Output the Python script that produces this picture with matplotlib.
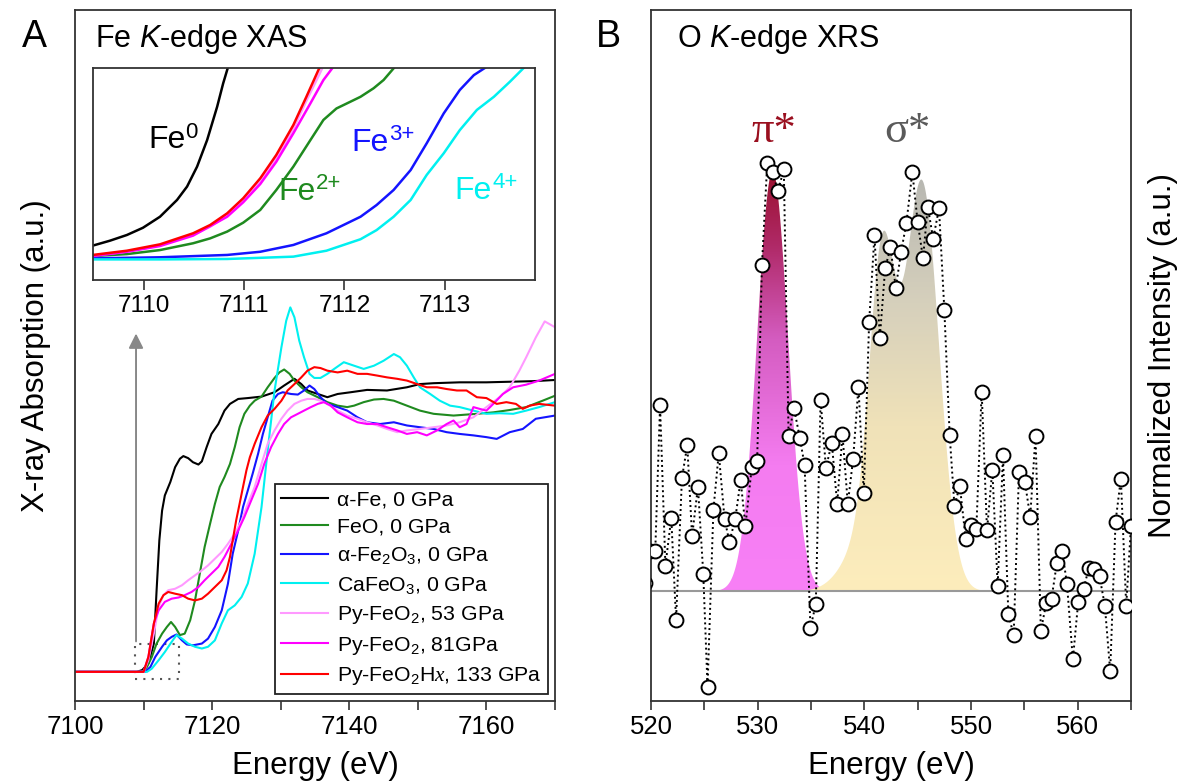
import numpy as np
import matplotlib
matplotlib.use("Agg")
import matplotlib.pyplot as plt
from matplotlib.colors import LinearSegmentedColormap
from matplotlib.ticker import MultipleLocator, FormatStrFormatter
from matplotlib.patches import Rectangle

plt.rcParams["font.family"] = ["Liberation Sans", "DejaVu Sans"]
plt.rcParams["mathtext.fontset"] = "custom"
plt.rcParams["mathtext.rm"] = "Liberation Sans"
plt.rcParams["mathtext.it"] = "Liberation Serif:italic"
plt.rcParams["mathtext.sf"] = "Liberation Sans:italic"

# ---------------- Panel A: Fe K-edge XAS (main spectra) ----------------
fe_x = [7100, 7109.0, 7109.8, 7110.7, 7111.5, 7111.9, 7112.3, 7112.7, 7113.1, 7113.9, 7114.6,
        7115.3, 7115.8, 7116.5, 7117.2, 7118.0, 7118.5, 7119.2, 7119.9, 7120.9, 7121.8, 7122.6,
        7123.8, 7125.2, 7127.2, 7129.1, 7130.5, 7132.0, 7133.0, 7133.9, 7135.4, 7136.8, 7138.3,
        7140.2, 7142.6, 7145.5, 7148.4, 7150.3, 7152.3, 7156.1, 7160.0, 7163.4, 7166.8, 7170]
fe_y = [0, 0, .006, .029, .097, .280, .451, .553, .605, .651, .702,
        .731, .740, .733, .719, .711, .722, .771, .816, .850, .896, .919,
        .936, .939, .944, .959, .982, 1.005, .987, .965, .953, .942, .953,
        .959, .967, .965, .976, .987, .990, .993, .993, .995, .997, 1.001]

feo_x = [7100, 7109.8, 7110.5, 7111.2, 7111.9, 7112.7, 7113.4, 7114.0, 7114.6, 7115.3, 7116.0,
         7116.8, 7117.5, 7118.2, 7118.9, 7119.7, 7120.4, 7121.1, 7121.8, 7122.6, 7123.3, 7124.0,
         7124.7, 7125.5, 7126.2, 7127.2, 7128.1, 7129.1, 7129.8, 7130.5, 7131.3, 7132.0, 7133.0,
         7133.9, 7135.4, 7136.8, 7138.3, 7139.7, 7140.7, 7142.1, 7143.6, 7145.0, 7146.5, 7148.4,
         7150.3, 7152.3, 7155.2, 7158.6, 7161.0, 7163.4, 7165.8, 7168.2, 7170]
feo_y = [0, 0, .017, .051, .097, .131, .154, .171, .154, .126, .131,
         .177, .245, .337, .428, .508, .576, .634, .668, .713, .771, .839,
         .885, .913, .930, .944, .976, 1.008, 1.027, 1.037, 1.022, .999, .976,
         .959, .942, .925, .913, .908, .913, .925, .934, .936, .930, .913,
         .896, .885, .879, .885, .890, .898, .908, .930, .947]

fe2o3_x = [7100, 7110.2, 7111.0, 7111.7, 7112.7, 7113.4, 7114.1, 7114.8, 7115.6, 7116.3, 7117.2,
           7118.5, 7119.4, 7120.4, 7121.4, 7122.3, 7123.0, 7123.8, 7124.5, 7125.2, 7125.9, 7126.7,
           7127.4, 7128.1, 7128.8, 7129.6, 7130.3, 7131.5, 7132.5, 7133.4, 7134.2, 7134.9, 7135.8,
           7136.8, 7138.3, 7139.7, 7141.2, 7142.6, 7144.5, 7146.5, 7148.4, 7150.3, 7152.3, 7154.2,
           7156.1, 7158.1, 7160.0, 7161.5, 7163.4, 7165.3, 7167.2, 7170]
fe2o3_y = [0, 0, .017, .051, .086, .108, .120, .128, .108, .094, .091,
           .097, .114, .154, .211, .302, .405, .485, .565, .622, .679, .748,
           .816, .873, .930, .953, .959, .953, .951, .965, .982, .970, .942,
           .919, .908, .896, .873, .856, .850, .856, .845, .839, .833, .822,
           .816, .811, .805, .799, .822, .833, .868, .879]

cafeo3_x = [7100, 7110.5, 7111.2, 7112.2, 7113.1, 7114.1, 7114.8, 7115.6, 7116.5, 7117.5, 7118.5,
            7119.4, 7120.4, 7121.4, 7122.3, 7123.3, 7124.3, 7125.2, 7126.2, 7127.2, 7128.1, 7129.1,
            7130.1, 7130.8, 7131.4, 7132.0, 7132.7, 7133.4, 7134.2, 7134.9, 7135.8, 7136.8, 7137.8,
            7139.2, 7140.7, 7142.1, 7143.6, 7145.0, 7146.5, 7147.4, 7148.4, 7149.4, 7150.3, 7151.8,
            7153.2, 7154.7, 7156.1, 7158.1, 7160.0, 7161.9, 7163.9, 7165.8, 7167.7, 7170]
cafeo3_y = [0, 0, .011, .040, .068, .103, .126, .114, .097, .086, .080,
            .086, .108, .166, .211, .228, .257, .303, .405, .565, .759, .965,
            1.113, 1.204, 1.250, 1.216, 1.136, 1.079, 1.022, 1.008, 1.008, 1.022, 1.039,
            1.062, 1.050, 1.039, 1.050, 1.067, 1.090, 1.079, 1.050, 1.010, .976, .953,
            .930, .913, .908, .896, .885, .887, .885, .896, .908, .925]

py53_x = [7100, 7110.0, 7110.7, 7111.5, 7112.2, 7112.9, 7113.6, 7114.6, 7115.6, 7116.5, 7117.5,
          7118.5, 7119.4, 7120.4, 7121.4, 7122.3, 7123.3, 7124.3, 7125.2, 7126.2, 7127.2, 7128.1,
          7129.1, 7130.1, 7131.0, 7132.0, 7133.0, 7133.9, 7134.9, 7135.8, 7136.8, 7138.3, 7139.7,
          7141.2, 7142.6, 7144.1, 7145.5, 7147.0, 7148.4, 7150.3, 7152.3, 7154.2, 7156.1, 7158.1,
          7160.0, 7161.9, 7163.4, 7164.8, 7165.8, 7167.2, 7168.5, 7170]
py53_y = [0, 0, .040, .131, .223, .263, .280, .285, .297, .314, .331,
          .348, .365, .388, .411, .439, .474, .519, .576, .634, .713, .782,
          .828, .868, .896, .919, .930, .936, .936, .930, .919, .896, .879,
          .868, .856, .845, .833, .822, .828, .833, .839, .845, .856, .873,
          .908, .942, .976, 1.033, 1.079, 1.147, 1.202, 1.182]

py81_x = [7100, 7110.0, 7110.7, 7111.5, 7112.2, 7113.1, 7114.1, 7115.1, 7116.0, 7117.0, 7118.0,
          7118.9, 7119.9, 7120.9, 7121.8, 7122.8, 7123.8, 7124.7, 7125.7, 7126.7, 7127.6, 7128.6,
          7129.6, 7130.5, 7131.5, 7132.5, 7133.4, 7134.4, 7135.4, 7136.3, 7137.3, 7138.3, 7139.7,
          7141.2, 7142.6, 7144.1, 7145.5, 7147.0, 7148.4, 7149.9, 7151.3, 7152.8, 7154.2, 7155.2,
          7156.1, 7157.1, 7158.1, 7159.0, 7160.0, 7161.0, 7162.4, 7163.9, 7165.8, 7167.7, 7170]
py81_y = [0, 0, .051, .166, .211, .240, .251, .255, .263, .274, .291,
          .314, .337, .360, .394, .439, .485, .531, .588, .645, .713, .771,
          .816, .850, .873, .885, .896, .908, .919, .925, .913, .890, .873,
          .856, .850, .850, .839, .828, .816, .822, .811, .828, .850, .862,
          .839, .850, .908, .902, .896, .919, .953, .976, .985, .999, 1.022]

pyh_x = [7100, 7110.0, 7110.7, 7111.5, 7112.2, 7112.9, 7113.6, 7114.6, 7115.6, 7116.5, 7117.5,
         7118.5, 7119.4, 7120.4, 7121.4, 7122.1, 7122.6, 7123.0, 7123.5, 7124.0, 7124.5, 7125.0,
         7125.5, 7126.2, 7127.2, 7128.1, 7129.1, 7130.1, 7131.0, 7132.0, 7133.0, 7133.9, 7134.9,
         7135.8, 7136.8, 7138.3, 7139.7, 7141.2, 7142.6, 7144.1, 7145.5, 7147.0, 7148.4, 7149.9,
         7151.3, 7152.8, 7154.2, 7155.7, 7157.1, 7158.6, 7160.0, 7161.5, 7162.9, 7164.3, 7165.3,
         7166.3, 7167.7, 7170]
pyh_y = [0, 0, .051, .166, .234, .263, .274, .268, .263, .251, .245,
         .251, .268, .291, .314, .348, .394, .451, .519, .576, .634, .691,
         .736, .782, .839, .879, .902, .930, .965, .987, 1.010, 1.033, 1.045,
         1.042, 1.033, 1.027, 1.033, 1.022, 1.022, 1.016, 1.010, 1.005, .999, .987,
         .976, .976, .970, .965, .965, .942, .939, .919, .925, .919, .902,
         .913, .919, .913]

series_labels = ["α-Fe, 0 GPa", "FeO, 0 GPa", "α-Fe$_2$O$_3$, 0 GPa", "CaFeO$_3$, 0 GPa",
                 "Py-FeO$_2$, 53 GPa", "Py-FeO$_2$, 81GPa", "Py-FeO$_2$H$x$, 133 GPa"]
series_colors = ["#000000", "#1f8a1f", "#1414ff", "#00f0f0", "#ff99ff", "#ff00ff", "#ff0000"]

# ---------------- Panel A inset (edge region, inset units) ----------------
in_fe_x = [7109.49, 7109.66, 7109.83, 7109.99, 7110.16, 7110.33, 7110.43, 7110.53, 7110.63,
           7110.73, 7110.79, 7110.84, 7110.89]
in_fe_y = [.162, .185, .212, .246, .298, .377, .440, .534, .659, .816, .926, 1.005, 1.099]
in_feo_x = [7109.49, 7109.83, 7110.16, 7110.49, 7110.66, 7110.83, 7110.99, 7111.16, 7111.32,
            7111.49, 7111.66, 7111.79, 7111.92, 7112.06, 7112.16, 7112.29, 7112.39, 7112.49]
in_feo_y = [.113, .122, .141, .173, .196, .228, .270, .330, .424, .534, .659, .754, .808, .840,
            .863, .903, .942, .997]
in_fe2o3_x = [7109.49, 7110.16, 7110.83, 7111.16, 7111.49, 7111.82, 7112.16, 7112.32, 7112.49,
              7112.66, 7112.82, 7112.99, 7113.15, 7113.29, 7113.42]
in_fe2o3_y = [.102, .107, .118, .133, .165, .220, .298, .353, .424, .518, .644, .785, .895, .965,
              1.005]
in_cafeo3_x = [7109.49, 7110.16, 7110.83, 7111.49, 7111.82, 7112.16, 7112.32, 7112.49, 7112.66,
               7112.82, 7112.99, 7113.15, 7113.32, 7113.49, 7113.65, 7113.80]
in_cafeo3_y = [.097, .097, .099, .110, .138, .192, .235, .298, .377, .495, .597, .706, .801, .863,
               .934, 1.005]
in_py53_x = [7109.49, 7109.83, 7110.16, 7110.49, 7110.66, 7110.83, 7110.99, 7111.16, 7111.32,
             7111.49, 7111.62, 7111.74, 7111.82]
in_py53_y = [.115, .134, .163, .213, .251, .305, .374, .466, .575, .713, .845, .960, 1.040]
in_py81_x = [7109.49, 7109.83, 7110.16, 7110.49, 7110.83, 7110.99, 7111.16, 7111.32, 7111.49,
             7111.66, 7111.79, 7111.89]
in_py81_y = [.113, .133, .160, .209, .298, .366, .452, .557, .691, .832, .942, 1.005]
in_pyh_x = [7109.49, 7109.83, 7110.16, 7110.49, 7110.66, 7110.83, 7110.99, 7111.16, 7111.32,
            7111.49, 7111.62, 7111.74, 7111.79]
in_pyh_y = [.118, .138, .168, .220, .259, .314, .385, .479, .589, .730, .863, .989, 1.036]

# ---------------- Panel B: O K-edge XRS ----------------
xrs_x = [519.4, 519.95, 520.4, 520.85, 521.35, 521.9, 522.35, 522.9, 523.4, 523.85, 524.4, 524.9,
         525.3, 525.85, 526.35, 526.9, 527.35, 527.9, 528.4, 528.85, 529.45, 529.95, 530.4,
         530.9, 531.4, 531.9, 532.45, 532.9, 533.4, 533.95, 534.4, 534.95, 535.45, 535.9,
         536.4, 536.95, 537.45, 537.95, 538.45, 538.95, 539.45, 539.95, 540.45, 540.95,
         541.45, 541.95, 542.45, 542.95, 543.45, 543.95, 544.5, 545.0, 545.5, 545.95, 546.45,
         547.0, 547.5, 548.0, 548.45, 548.95, 549.5, 550.0, 550.5, 551.0, 551.5, 552.0, 552.5,
         553.0, 553.5, 554.0, 554.5, 555.05, 555.55, 556.05, 556.55, 557.05, 557.55, 558.05,
         558.55, 559.0, 559.55, 560.05, 560.55, 561.05, 561.55, 562.05, 562.55, 563.05, 563.55,
         564.05, 564.55, 565.0]
xrs_y = [0.02, 0.095, 0.095, 0.434, 0.060, 0.171, -0.066, 0.264, 0.341, 0.128, 0.244, 0.041,
         -0.223, 0.190, 0.322, 0.168, 0.115, 0.169, 0.259, 0.152, 0.290, 0.303, 0.761,
         1.000, 0.977, 0.934, 0.984, 0.362, 0.428, 0.358, 0.294, -0.085, -0.030, 0.447,
         0.287, 0.347, 0.204, 0.366, 0.204, 0.309, 0.477, 0.229, 0.628, 0.830,
         0.591, 0.753, 0.802, 0.708, 0.792, 0.860, 0.978, 0.861, 0.777, 0.897, 0.822,
         0.893, 0.657, 0.364, 0.199, 0.246, 0.123, 0.155, 0.145, 0.466, 0.142, 0.284, 0.013,
         0.317, -0.053, -0.103, 0.278, 0.255, 0.174, 0.363, -0.092, -0.028, -0.017, 0.066,
         0.095, 0.016, -0.159, -0.025, 0.006, 0.054, 0.053, 0.035, -0.034, -0.187, 0.162,
         0.263, -0.034, 0.153]

# fitted peaks: (center eV, height, sigma eV)
pi_peak = [(531.4, 0.98, 1.45)]
sigma_peaks = [(541.7, 0.68, 1.2), (545.4, 0.95, 1.6), (540.2, 0.12, 2.0)]

pi_cmap = LinearSegmentedColormap.from_list(
    "pi", [(0, "#f880f6"), (0.3, "#f47cf0"), (0.6, "#d45cc0"), (0.82, "#b02a68"), (1, "#990f2c")])
sigma_cmap = LinearSegmentedColormap.from_list(
    "sig", [(0, "#fdedbc"), (0.4, "#f0e2b8"), (0.7, "#d6d0bc"), (1, "#b8b8b2")])


def peak_curve(x, peaks):
    y = np.zeros_like(x)
    for c, h, s in peaks:
        y += h * np.exp(-(x - c) ** 2 / (2 * s ** 2))
    return y


def gradient_fill(ax, x, y, cmap):
    poly = ax.fill_between(x, 0, y, facecolor="none", edgecolor="none")
    path = poly.get_paths()[0]
    grad = np.linspace(0, 1, 256).reshape(-1, 1)
    im = ax.imshow(grad, cmap=cmap, aspect="auto", origin="lower",
                   extent=[x.min(), x.max(), 0, y.max()], zorder=1)
    im.set_clip_path(path, transform=ax.transData)


def style_axis(ax):
    for sp in ax.spines.values():
        sp.set_linewidth(1.3)
        sp.set_color("#333333")
    ax.tick_params(axis="x", which="both", direction="out", length=6.5, width=1.2,
                   labelsize=18.5, color="#333333")
    ax.set_yticks([])


def fe_label(ax, x, y, sup, color):
    t = ax.text(x, y, "Fe", color=color, fontsize=23, va="baseline")
    ax.annotate(sup, xy=(1.0, 0.42), xycoords=t, color=color, fontsize=16,
                va="bottom", ha="left")


fig = plt.figure(figsize=(11.99, 7.83), dpi=100)
W, H = 1199, 783

# ---------- Panel A ----------
axA = fig.add_axes([75 / W, 1 - 701 / H, 480 / W, 691 / H])
all_x = [fe_x, feo_x, fe2o3_x, cafeo3_x, py53_x, py81_x, pyh_x]
all_y = [fe_y, feo_y, fe2o3_y, cafeo3_y, py53_y, py81_y, pyh_y]
for xs, ys, lab, col in zip(all_x, all_y, series_labels, series_colors):
    axA.plot(xs, ys, color=col, lw=1.5, label=lab)

axA.set_xlim(7100, 7170)
axA.set_ylim(-0.10, 2.27)
axA.xaxis.set_major_locator(MultipleLocator(20))
axA.xaxis.set_minor_locator(MultipleLocator(10))
style_axis(axA)
axA.set_xlabel("Energy (eV)", fontsize=22.5)
axA.xaxis.set_label_coords(0.5, -0.072)
axA.set_ylabel("X-ray Absorption (a.u.)", fontsize=22.5)
axA.yaxis.set_label_coords(-0.05, 0.5)
axA.text(0.042, (701 - 47) / 691, "Fe $\\mathsf{K}$-edge XAS", transform=axA.transAxes,
         fontsize=22, va="baseline", ha="left")

# arrow and dotted zoom box
axA.annotate("", xy=(7108.9, 1.17), xytext=(7108.9, 0.095),
             arrowprops=dict(arrowstyle="-|>", color="#888888", lw=1.4, mutation_scale=22))
axA.add_patch(Rectangle((7108.7, -0.023), 6.4, 0.118, fill=False, ls=(0, (1, 3)),
                        lw=1.5, edgecolor="#555555"))

leg = axA.legend(loc="lower right", fontsize=15.3, handlelength=2.2, handletextpad=0.4,
                 labelspacing=0.4, borderpad=0.3, borderaxespad=0.35, fancybox=False,
                 edgecolor="#222222", framealpha=1)
leg.get_frame().set_linewidth(1.3)

# inset
axI = fig.add_axes([93.3 / W, 1 - 280 / H, (535 - 93.3) / W, (280 - 67.7) / H])
in_x = [in_fe_x, in_feo_x, in_fe2o3_x, in_cafeo3_x, in_py53_x, in_py81_x, in_pyh_x]
in_y = [in_fe_y, in_feo_y, in_fe2o3_y, in_cafeo3_y, in_py53_y, in_py81_y, in_pyh_y]
for k in range(7):
    axI.plot(in_x[k], in_y[k], color=series_colors[k], lw=1.8)
axI.set_xlim(7109.495, 7113.9)
axI.set_ylim(0, 1)
axI.set_xticks([7110, 7111, 7112, 7113])
axI.xaxis.set_major_formatter(FormatStrFormatter("%d"))
style_axis(axI)
axI.tick_params(axis="x", labelsize=17.5, length=7)
fe_label(axI, 7110.04, 0.62, "0", "black")
fe_label(axI, 7111.34, 0.377, "2+", "#1f8a1f")
fe_label(axI, 7112.07, 0.609, "3+", "#1414ff")
fe_label(axI, 7113.10, 0.382, "4+", "#00f0f0")

# ---------- Panel B ----------
axB = fig.add_axes([651 / W, 1 - 701 / H, 480 / W, 691 / H])
pi_x = np.linspace(525.0, 537.8, 300)
gradient_fill(axB, pi_x, peak_curve(pi_x, pi_peak), pi_cmap)
sig_x = np.linspace(534.5, 551.5, 400)
gradient_fill(axB, sig_x, peak_curve(sig_x, sigma_peaks), sigma_cmap)
axB.axhline(0, color="#999999", lw=1.5, zorder=2)
axB.plot(xrs_x, xrs_y, ls=(0, (1, 1.6)), lw=1.4, color="black", marker="o", ms=10,
         mfc="white", mec="black", mew=1.4, zorder=3)
axB.set_xlim(520, 565)
axB.set_ylim(-0.256, 1.356)
axB.xaxis.set_major_locator(MultipleLocator(10))
axB.xaxis.set_minor_locator(MultipleLocator(5))
style_axis(axB)
axB.set_xlabel("Energy (eV)", fontsize=22.5)
axB.xaxis.set_label_coords(0.5, -0.072)
axB.yaxis.set_label_position("right")
axB.set_ylabel("Normalized Intensity (a.u.)", fontsize=22.5)
axB.yaxis.set_label_coords(1.035, 0.5)
axB.text(0.054, (701 - 47) / 691, "O $\\mathsf{K}$-edge XRS", transform=axB.transAxes,
         fontsize=22, va="baseline", ha="left")
axB.text(529.4, 1.048, "π*", color="#9a0f1f", fontsize=32, family="Liberation Serif",
         va="baseline")
axB.text(541.9, 1.048, "σ*", color="#5a5a5a", fontsize=32, family="Liberation Serif",
         va="baseline")

fig.text(22 / W, 1 - 47 / H, "A", fontsize=27, va="baseline", ha="left")
fig.text(596 / W, 1 - 47 / H, "B", fontsize=27, va="baseline", ha="left")

fig.savefig("out.png", dpi=100)
